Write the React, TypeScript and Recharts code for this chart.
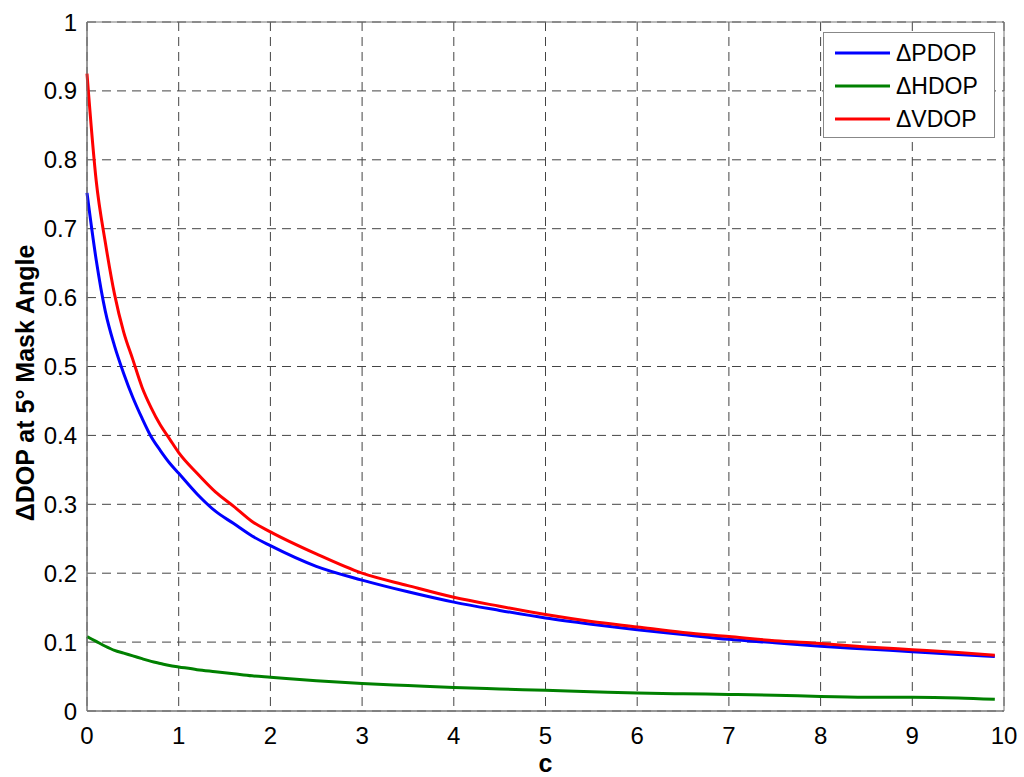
import {
  CartesianGrid,
  Legend,
  Line,
  LineChart,
  ReferenceArea,
  XAxis,
  YAxis
} from "recharts"

const cValues = [0, 0.1, 0.2, 0.3, 0.4, 0.5, 0.6, 0.7, 0.8, 0.9, 1.0, 1.2, 1.4, 1.6, 1.8, 2.0, 2.5, 3.0, 3.5, 4.0, 4.5, 5.0, 5.5, 6.0, 6.5, 7.0, 7.5, 8.0, 8.5, 9.0, 9.5, 9.9]
const pdop = [0.752, 0.655, 0.58, 0.53, 0.49, 0.455, 0.425, 0.398, 0.378, 0.36, 0.345, 0.315, 0.29, 0.272, 0.254, 0.24, 0.21, 0.19, 0.173, 0.158, 0.146, 0.135, 0.126, 0.118, 0.111, 0.104, 0.099, 0.094, 0.09, 0.086, 0.082, 0.079]
const hdop = [0.108, 0.101, 0.094, 0.088, 0.084, 0.08, 0.076, 0.072, 0.069, 0.066, 0.064, 0.06, 0.057, 0.054, 0.051, 0.049, 0.044, 0.04, 0.037, 0.034, 0.032, 0.03, 0.028, 0.026, 0.025, 0.024, 0.023, 0.021, 0.02, 0.02, 0.019, 0.017]
const vdop = [0.925, 0.77, 0.68, 0.605, 0.55, 0.51, 0.47, 0.44, 0.415, 0.395, 0.375, 0.345, 0.318, 0.297, 0.275, 0.26, 0.228, 0.2, 0.182, 0.165, 0.152, 0.14, 0.13, 0.122, 0.114, 0.108, 0.102, 0.098, 0.093, 0.089, 0.085, 0.081]

const xTicks = [0, 1, 2, 3, 4, 5, 6, 7, 8, 9, 10]
const yTicks = [0, 0.1, 0.2, 0.3, 0.4, 0.5, 0.6, 0.7, 0.8, 0.9, 1]

const series = [
  { key: "pdop", name: "\u0394PDOP", color: "#0000ff" },
  { key: "hdop", name: "\u0394HDOP", color: "#008000" },
  { key: "vdop", name: "\u0394VDOP", color: "#ff0000" }
]

const data = cValues.map((c, i) => ({
  c,
  pdop: pdop[i],
  hdop: hdop[i],
  vdop: vdop[i]
}))

const font = "Arial, 'Liberation Sans', sans-serif"

const LegendBox = () => (
  <div style={{
    position: "relative",
    width: 170,
    height: 104,
    border: "1px solid #888",
    background: "#fff",
    fontFamily: font,
    fontSize: 23,
    color: "#000"
  }}>
    {series.map((s, i) => (
      <div key={s.key} style={{ position: "absolute", left: 11, top: 6 + i * 33, display: "flex", alignItems: "center", height: 28 }}>
        <svg width={55} height={6} style={{ marginRight: 6 }}>
          <line x1={0} y1={3} x2={55} y2={3} stroke={s.color} strokeWidth={3} />
        </svg>
        <span>{s.name}</span>
      </div>
    ))}
  </div>
)

const YLabel = () => (
  <text x={25} y={383} transform="rotate(-90, 25, 383)" textAnchor="middle" dominantBaseline="central"
    fill="#000" fontSize={25} fontWeight="bold" fontFamily={font}>
    {"\u0394DOP at 5\u00b0 Mask Angle"}
  </text>
)

export default function App() {
  return (
    <div style={{ position: "absolute", left: 0, top: 0, background: "#fff" }}>
      <LineChart width={1024} height={777} data={data}
        margin={{ top: 22, right: 20, bottom: 0, left: 0 }}>
        <CartesianGrid stroke="#444" strokeDasharray="9 6" strokeWidth={1}
          horizontalValues={yTicks} verticalValues={xTicks} />
        <XAxis dataKey="c" type="number" domain={[0, 10]} ticks={xTicks}
          height={66} tickLine={false} axisLine={{ stroke: "#777" }} tickMargin={10}
          tick={{ fill: "#000", fontSize: 24, fontFamily: font }}
          label={{ value: "c", position: "insideBottom", offset: 5, fill: "#000", fontSize: 25, fontWeight: "bold", fontFamily: font }} />
        <YAxis type="number" domain={[0, 1]} ticks={yTicks} width={87}
          tickLine={false} axisLine={{ stroke: "#777" }} tickMargin={4}
          tick={{ fill: "#000", fontSize: 24, fontFamily: font }}
          label={<YLabel />} />
        <ReferenceArea x1={0} x2={10} y1={0} y2={1} fill="none" stroke="#777" strokeWidth={1} ifOverflow="visible" />
        {series.map(s => (
          <Line key={s.key} type="monotone" dataKey={s.key} name={s.name}
            stroke={s.color} strokeWidth={3} dot={false} isAnimationActive={false} />
        ))}
        <Legend content={<LegendBox />} layout="vertical" verticalAlign="middle" align="center"
          wrapperStyle={{ position: "absolute", top: 32, left: 823, width: 172, height: 106 }} />
      </LineChart>
    </div>
  )
}
